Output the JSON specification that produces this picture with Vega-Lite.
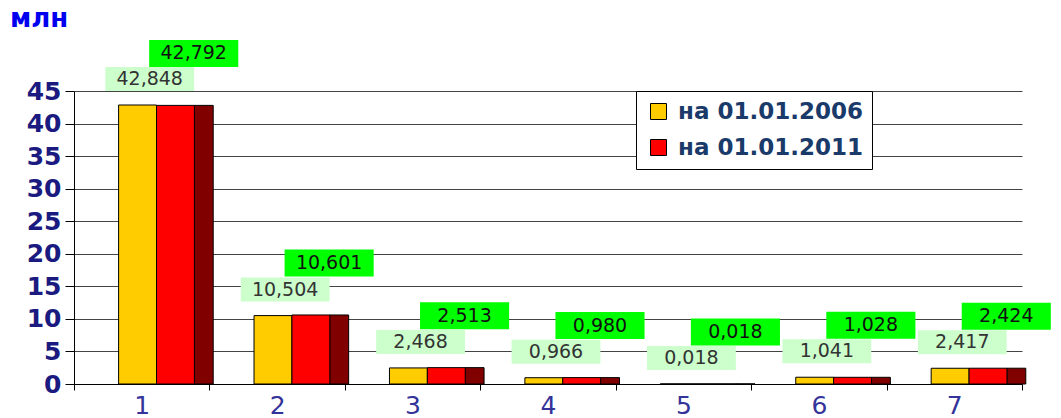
{
  "$schema": "https://vega.github.io/schema/vega-lite/v6.json",
  "width": 976,
  "height": 293,
  "autosize": {"type": "none"},
  "padding": {"left": 74, "top": 91, "right": 11, "bottom": 34},
  "background": "white",
  "config": {
    "view": {"stroke": null},
    "font": "DejaVu Sans",
    "locale": {"number": {"decimal": ",", "thousands": " ", "grouping": [3], "currency": ["", ""]}}
  },
  "title": {
    "text": "млн",
    "anchor": "start",
    "frame": "group",
    "dx": -64,
    "offset": 8,
    "fontSize": 26,
    "fontWeight": "bold",
    "color": "#0000ee",
    "font": "DejaVu Sans"
  },
  "data": {
    "values": [
      {"cat": "1", "series": "на 01.01.2006", "value": 42.848},
      {"cat": "1", "series": "на 01.01.2011", "value": 42.792},
      {"cat": "2", "series": "на 01.01.2006", "value": 10.504},
      {"cat": "2", "series": "на 01.01.2011", "value": 10.601},
      {"cat": "3", "series": "на 01.01.2006", "value": 2.468},
      {"cat": "3", "series": "на 01.01.2011", "value": 2.513},
      {"cat": "4", "series": "на 01.01.2006", "value": 0.966},
      {"cat": "4", "series": "на 01.01.2011", "value": 0.980},
      {"cat": "5", "series": "на 01.01.2006", "value": 0.018},
      {"cat": "5", "series": "на 01.01.2011", "value": 0.018},
      {"cat": "6", "series": "на 01.01.2006", "value": 1.041},
      {"cat": "6", "series": "на 01.01.2011", "value": 1.028},
      {"cat": "7", "series": "на 01.01.2006", "value": 2.417},
      {"cat": "7", "series": "на 01.01.2011", "value": 2.424}
    ]
  },
  "encoding": {
    "x": {
      "field": "cat",
      "type": "nominal",
      "scale": {"range": [0, 948], "paddingInner": 0, "paddingOuter": 0},
      "axis": {
        "title": null,
        "labelAngle": 0,
        "labelFontSize": 25,
        "labelFont": "DejaVu Sans",
        "labelColor": "#333399",
        "labelPadding": 3,
        "tickBand": "extent",
        "tickColor": "#000000",
        "tickSize": 6,
        "domainColor": "#000000",
        "grid": false
      }
    },
    "y": {
      "field": "value",
      "type": "quantitative",
      "scale": {"domain": [0, 45], "nice": false},
      "axis": {
        "title": null,
        "values": [0, 5, 10, 15, 20, 25, 30, 35, 40, 45],
        "labelFontSize": 25,
        "labelFont": "DejaVu Sans",
        "labelFontWeight": "bold",
        "labelColor": "#1a1a80",
        "labelPadding": 4,
        "tickColor": "#000000",
        "tickSize": 9,
        "domainColor": "#000000",
        "gridColor": "#444444",
        "gridWidth": 1
      }
    }
  },
  "layer": [
    {
      "transform": [{"filter": "datum.series == 'на 01.01.2011'"}],
      "mark": {"type": "bar", "width": 19, "xOffset": 62, "color": "#800000", "stroke": "#000000", "strokeWidth": 1}
    },
    {
      "mark": {"type": "bar", "stroke": "#000000", "strokeWidth": 1},
      "encoding": {
        "xOffset": {
          "field": "series",
          "type": "nominal",
          "scale": {"range": [44.6, 120.4], "paddingInner": 0, "paddingOuter": 0}
        },
        "color": {
          "field": "series",
          "type": "nominal",
          "scale": {"range": ["#ffcc00", "#ff0000"]},
          "legend": {
            "title": null,
            "orient": "none",
            "legendX": 562,
            "legendY": 0,
            "fillColor": "white",
            "strokeColor": "#000000",
            "padding": 9,
            "symbolType": "square",
            "symbolSize": 256,
            "symbolStrokeColor": "#000000",
            "symbolStrokeWidth": 1,
            "labelFontSize": 23,
            "labelFontWeight": "bold",
            "labelColor": "#1a3a6a",
            "labelFont": "DejaVu Sans",
            "labelLimit": 400,
            "labelOffset": 8,
            "rowPadding": 12,
            "symbolOffset": 2
          }
        }
      }
    },
    {
      "transform": [{"filter": "datum.series == 'на 01.01.2006'"}],
      "mark": {"type": "point", "shape": "M-1.85,-0.5H1.85V0.5H-1.85Z", "size": 2304, "filled": true, "color": "#ccffcc", "opacity": 1, "xOffset": 8, "yOffset": -26}
    },
    {
      "transform": [{"filter": "datum.series == 'на 01.01.2006'"}],
      "mark": {"type": "text", "fontSize": 19, "font": "DejaVu Sans", "color": "#333333", "xOffset": 8, "yOffset": -26, "baseline": "middle", "align": "center"},
      "encoding": {"text": {"field": "value", "type": "quantitative", "format": ".3f"}}
    },
    {
      "transform": [{"filter": "datum.series == 'на 01.01.2011'"}],
      "mark": {"type": "point", "shape": "M-1.65,-0.5H1.65V0.5H-1.65Z", "size": 2916, "filled": true, "color": "#00ff00", "opacity": 1, "xOffset": 52, "yOffset": -52}
    },
    {
      "transform": [{"filter": "datum.series == 'на 01.01.2011'"}],
      "mark": {"type": "text", "fontSize": 19, "font": "DejaVu Sans", "color": "#111111", "xOffset": 52, "yOffset": -52, "baseline": "middle", "align": "center"},
      "encoding": {"text": {"field": "value", "type": "quantitative", "format": ".3f"}}
    }
  ]
}
